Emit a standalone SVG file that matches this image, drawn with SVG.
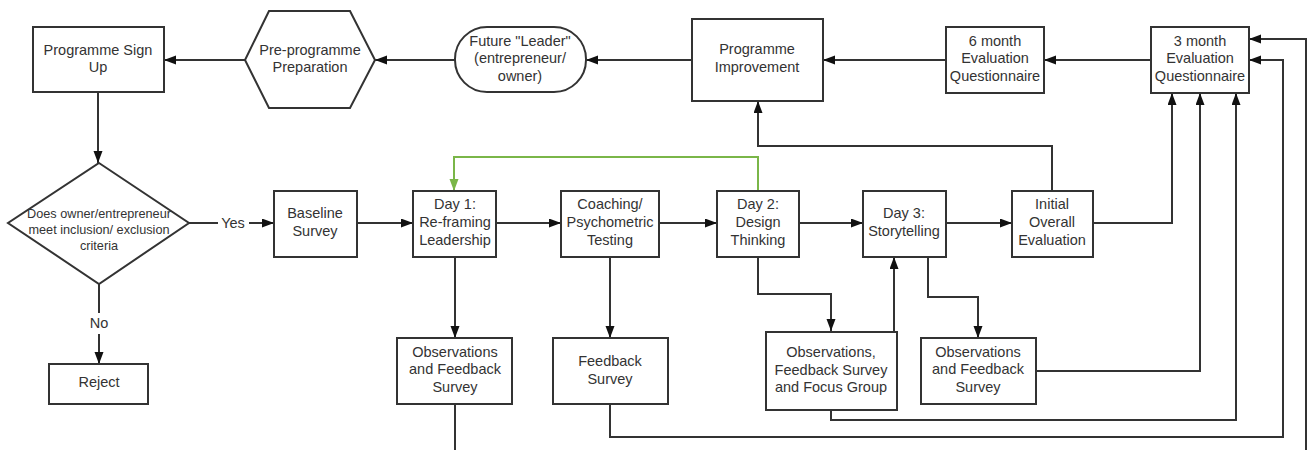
<svg xmlns="http://www.w3.org/2000/svg" width="1308" height="450" viewBox="0 0 1308 450">
<style>
.box{fill:#fff;stroke:#333;stroke-width:2}
.t{font-family:"Liberation Sans",Arial,sans-serif;font-size:14.5px;fill:#333;text-anchor:middle}
.ts{font-family:"Liberation Sans",Arial,sans-serif;font-size:12.7px;fill:#333;text-anchor:middle}
.c{fill:none;stroke:#333;stroke-width:2}
.ca{fill:none;stroke:#333;stroke-width:2;marker-end:url(#ah)}
.g{fill:none;stroke:#7ab648;stroke-width:2;marker-end:url(#ag)}
</style>
<defs>
<marker id="ah" markerUnits="userSpaceOnUse" markerWidth="13" markerHeight="10" refX="12" refY="4.5" orient="auto"><path d="M0,0 L12,4.5 L0,9 z" fill="#111"/></marker>
<marker id="ag" markerUnits="userSpaceOnUse" markerWidth="13" markerHeight="10" refX="12" refY="4.5" orient="auto"><path d="M0,0 L12,4.5 L0,9 z" fill="#7ab648"/></marker>
</defs>
<rect width="1308" height="450" fill="#fff"/>
<g id="connectors">
<path class="ca" d="M98,92 V163"/>
<path class="ca" d="M245,60 H164"/>
<path class="ca" d="M455,60 H375"/>
<path class="ca" d="M692,60 H586"/>
<path class="ca" d="M946,60 H823"/>
<path class="ca" d="M1151,60 H1044"/>
<path class="c" d="M189,223 H218"/>
<path class="ca" d="M249,223 H274"/>
<text class="t" x="233" y="228">Yes</text>
<path class="c" d="M99,284 V313"/>
<path class="ca" d="M99,334 V364"/>
<text class="t" x="99" y="328">No</text>
<path class="ca" d="M357,223 H413"/>
<path class="ca" d="M496,223 H561"/>
<path class="ca" d="M659,223 H717"/>
<path class="ca" d="M799,223 H863"/>
<path class="ca" d="M946,223 H1012"/>
<path class="g" d="M758,191 V157 H454 V191"/>
<path class="ca" d="M1052,191 V146 H758 V101"/>
<path class="ca" d="M1093,223 H1172 V93"/>
<path class="ca" d="M455,257 V338"/>
<path class="ca" d="M610,257 V338"/>
<path class="ca" d="M758,257 V294 H831 V331"/>
<path class="ca" d="M894,332 V257"/>
<path class="ca" d="M928,257 V297 H978 V338"/>
<path class="ca" d="M1036,371 H1200 V93"/>
<path class="ca" d="M831,410 V420 H1236 V93"/>
<path class="ca" d="M610,404 V437 H1283 V60 H1249"/>
<path class="ca" d="M455,404 V452 H1306 V39 H1249"/>
</g>
<g id="signup"><rect class="box" x="33" y="27" width="131" height="65"/><text class="t" x="98" y="55">Programme Sign</text><text class="t" x="98" y="72">Up</text></g>
<g id="prep"><polygon class="box" points="269,11 350,11 375,60 350,108 269,108 245,60"/><text class="t" x="310" y="55">Pre-programme</text><text class="t" x="310" y="72">Preparation</text></g>
<g id="leader"><rect class="box" x="455" y="27" width="131" height="65" rx="32" ry="32"/><text class="t" x="520" y="46">Future "Leader"</text><text class="t" x="520" y="63">(entrepreneur/</text><text class="t" x="520" y="81">owner)</text></g>
<g id="improve"><rect class="box" x="692" y="19" width="131" height="82"/><text class="t" x="757" y="54">Programme</text><text class="t" x="757" y="72">Improvement</text></g>
<g id="six"><rect class="box" x="946" y="27" width="98" height="66"/><text class="t" x="995" y="46">6 month</text><text class="t" x="995" y="63">Evaluation</text><text class="t" x="995" y="81">Questionnaire</text></g>
<g id="three"><rect class="box" x="1151" y="27" width="98" height="66"/><text class="t" x="1200" y="46">3 month</text><text class="t" x="1200" y="63">Evaluation</text><text class="t" x="1200" y="81">Questionnaire</text></g>
<g id="decision"><polygon class="box" points="99,163 189,223 99,284 8,223"/><text class="ts" x="99" y="218">Does owner/entrepreneur</text><text class="ts" x="99" y="234">meet inclusion/ exclusion</text><text class="ts" x="99" y="250">criteria</text></g>
<g id="baseline"><rect class="box" x="274" y="191" width="83" height="66"/><text class="t" x="315" y="218">Baseline</text><text class="t" x="315" y="236">Survey</text></g>
<g id="day1"><rect class="box" x="413" y="191" width="83" height="66"/><text class="t" x="455" y="209">Day 1:</text><text class="t" x="455" y="227">Re-framing</text><text class="t" x="455" y="245">Leadership</text></g>
<g id="coaching"><rect class="box" x="561" y="191" width="98" height="66"/><text class="t" x="610" y="209">Coaching/</text><text class="t" x="610" y="227">Psychometric</text><text class="t" x="610" y="245">Testing</text></g>
<g id="day2"><rect class="box" x="717" y="191" width="82" height="66"/><text class="t" x="758" y="209">Day 2:</text><text class="t" x="758" y="227">Design</text><text class="t" x="758" y="245">Thinking</text></g>
<g id="day3"><rect class="box" x="863" y="191" width="83" height="66"/><text class="t" x="904" y="218">Day 3:</text><text class="t" x="904" y="236">Storytelling</text></g>
<g id="initial"><rect class="box" x="1012" y="191" width="81" height="66"/><text class="t" x="1052" y="209">Initial</text><text class="t" x="1052" y="227">Overall</text><text class="t" x="1052" y="245">Evaluation</text></g>
<g id="reject"><rect class="box" x="49" y="364" width="99" height="40"/><text class="t" x="99" y="387">Reject</text></g>
<g id="obs1"><rect class="box" x="397" y="338" width="115" height="66"/><text class="t" x="455" y="357">Observations</text><text class="t" x="455" y="374">and Feedback</text><text class="t" x="455" y="392">Survey</text></g>
<g id="feedback"><rect class="box" x="553" y="338" width="115" height="66"/><text class="t" x="610" y="366">Feedback</text><text class="t" x="610" y="384">Survey</text></g>
<g id="obs2"><rect class="box" x="766" y="332" width="131" height="78"/><text class="t" x="831" y="357">Observations,</text><text class="t" x="831" y="375">Feedback Survey</text><text class="t" x="831" y="392">and Focus Group</text></g>
<g id="obs3"><rect class="box" x="921" y="338" width="115" height="66"/><text class="t" x="978" y="357">Observations</text><text class="t" x="978" y="374">and Feedback</text><text class="t" x="978" y="392">Survey</text></g>
</svg>
